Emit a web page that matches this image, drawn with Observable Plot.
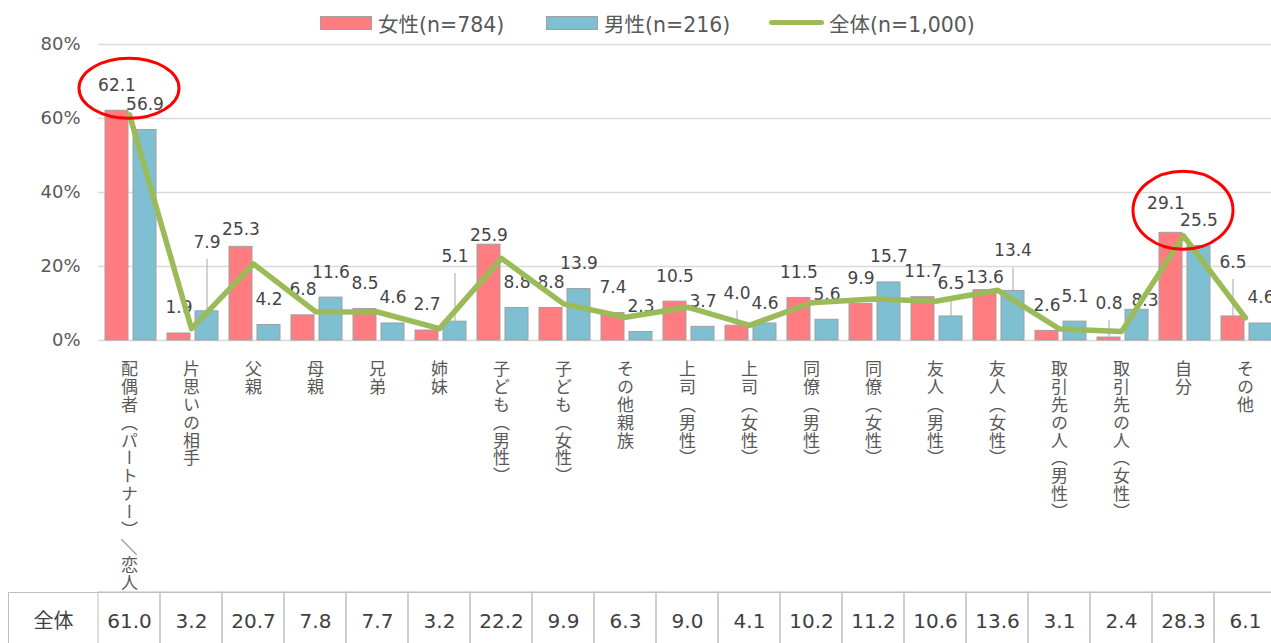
<!DOCTYPE html>
<html>
<head>
<meta charset="utf-8">
<script src="https://cdn.jsdelivr.net/npm/d3@7"></script>
<script src="https://cdn.jsdelivr.net/npm/@observablehq/plot@0.6"></script>
<style>
  html, body { margin: 0; padding: 0; background: #fff; overflow: hidden; }
  #wrap { position: relative; width: 1271px; height: 643px; overflow: hidden;
          font-family: "DejaVu Sans", "Noto Sans CJK JP", sans-serif; }
  #legend { position: absolute; left: 0; top: 0; width: 1271px; height: 45px; color: #595959; font-size: 20.5px; z-index: 2; }
  .item { position: absolute; top: 0; height: 45px; display: flex; align-items: center; white-space: nowrap; }
  .sw { display: inline-block; width: 50px; height: 12px; border: 1px solid #A0A0A0; margin-right: 6px; }
  .ln { display: inline-block; width: 55px; height: 5px; border-radius: 3px; margin-right: 5px; }
  #chart { position: absolute; left: 0; top: 0; }
  #table { position: absolute; left: 0; top: 590px; }
</style>
</head>
<body>
<div id="wrap">
  <div id="legend"></div>
  <div id="chart"></div>
  <div id="table"></div>
</div>
<script>
// ---------- data ----------
const categories = [
  "配偶者（パートナー）／恋人", "片思いの相手", "父親", "母親", "兄弟", "姉妹",
  "子ども（男性）", "子ども（女性）", "その他親族", "上司（男性）", "上司（女性）",
  "同僚（男性）", "同僚（女性）", "友人（男性）", "友人（女性）",
  "取引先の人（男性）", "取引先の人（女性）", "自分", "その他"
];
const femaleValues = [62.1, 1.9, 25.3, 6.8, 8.5, 2.7, 25.9, 8.8, 7.4, 10.5, 4.0, 11.5, 9.9, 11.7, 13.6, 2.6, 0.8, 29.1, 6.5];
const maleValues   = [56.9, 7.9, 4.2, 11.6, 4.6, 5.1, 8.8, 13.9, 2.3, 3.7, 4.6, 5.6, 15.7, 6.5, 13.4, 5.1, 8.3, 25.5, 4.6];
const totalValues  = [61.0, 3.2, 20.7, 7.8, 7.7, 3.2, 22.2, 9.9, 6.3, 9.0, 4.1, 10.2, 11.2, 10.6, 13.6, 3.1, 2.4, 28.3, 6.1];
const yTicks = [0, 20, 40, 60, 80];
const seriesNames = ["女性(n=784)", "男性(n=216)", "全体(n=1,000)"];
const tableRowLabel = "全体";
const highlightCategories = ["配偶者（パートナー）／恋人", "自分"];

// ---------- styling / label placement (pixels) ----------
const colors = { female: "#FF7C80", male: "#7EBFD1", total: "#9BBB59" };
const femaleLabelTweaks = { 2: {dy: -17}, 6: {dy: -9}, 10: {dy: -32, leader: true}, 14: {dy: -13},
  16: {dy: -34, leader: true}, 17: {dy: -29, dx: -5}, 18: {dy: -54, leader: true} };
const maleLabelTweaks = { 1: {dy: -69, leader: true}, 5: {dy: -65, leader: true}, 10: {dy: -20},
  13: {dy: -33, leader: true}, 14: {dy: -40, leader: true}, 16: {dy: -9, dx: 8} };
const highlightShape = [{rx: 50, ry: 30}, {rx: 50, ry: 39}];

const rows = categories.map((cat, i) => ({cat, female: femaleValues[i], male: maleValues[i], total: totalValues[i]}));

// ---------- legend ----------
const legend = d3.select("#legend");
const legendX = [320, 546, 769];
seriesNames.forEach((name, i) => {
  const it = legend.append("div").attr("class", "item").style("left", legendX[i] + "px");
  if (i < 2) it.append("span").attr("class", "sw").style("background", i === 0 ? colors.female : colors.male);
  else it.append("span").attr("class", "ln").style("background", colors.total);
  it.append("span").text(name);
});

// ---------- main chart ----------
const series = [
  {key: "female", fill: colors.female, insetLeft: 7, insetRight: 32, labelDx: -12.5, tweaks: femaleLabelTweaks},
  {key: "male", fill: colors.male, insetLeft: 35, insetRight: 4, labelDx: 15.5, tweaks: maleLabelTweaks}
];

const barMarks = series.map(s => Plot.barY(rows, {
  x: "cat", y: s.key, fill: s.fill, stroke: "#A0A0A0", strokeWidth: 1,
  insetLeft: s.insetLeft, insetRight: s.insetRight
}));

const labelMarks = [];
for (const s of series) {
  rows.forEach((r, i) => {
    const t = s.tweaks[i] || {};
    const dy = t.dy ?? -25.5;
    const dx = s.labelDx + (t.dx || 0);
    if (t.leader) {
      labelMarks.push(Plot.ruleX([r], {x: "cat", y1: s.key, y2: s.key, dx, insetTop: 0, insetBottom: -dy - 17,
        stroke: "#A6A6A6", strokeWidth: 1}));
    }
    labelMarks.push(Plot.text([r], {x: "cat", y: s.key, text: d => d[s.key].toFixed(1), dx, dy,
      fontSize: 17, fill: "#454545"}));
  });
}

const chart = Plot.plot({
  width: 1271, height: 590,
  marginTop: 44, marginBottom: 250, marginLeft: 98, marginRight: 0,
  style: {fontFamily: "'DejaVu Sans','Noto Sans CJK JP',sans-serif", fontSize: "17px", color: "#595959", background: "transparent"},
  x: {type: "band", domain: categories, range: [98, 1276], padding: 0, axis: null},
  y: {domain: [0, 80]},
  marks: [
    Plot.gridY(yTicks, {stroke: "#D9D9D9", strokeOpacity: 1, strokeWidth: 1.5}),
    Plot.axisY(yTicks, {tickSize: 0, tickPadding: 18, tickFormat: d => d + "%", fontSize: 18, label: null, fill: "#595959"}),
    ...barMarks,
    ...labelMarks,
    Plot.line(rows, {x: "cat", y: "total", stroke: colors.total, strokeWidth: 5.5, strokeLinejoin: "round", strokeLinecap: "round"}),
    Plot.text(categories, {x: d => d, text: d => d, frameAnchor: "bottom", textAnchor: "start", dy: 20,
      fontSize: 17, fill: "#595959"})
  ]
});
document.getElementById("chart").appendChild(chart);

// vertical (tategaki) category labels
const catSet = new Set(categories);
d3.select(chart).selectAll("text")
  .filter(function() { return catSet.has(this.textContent); })
  .attr("writing-mode", "vertical-rl")
  .attr("dy", null)
  .style("font-family", "'Noto Sans CJK JP', sans-serif")
  .style("letter-spacing", "0.8px")
  .each(function() {
    // the full-width slash is set sideways, as in the original
    const s = this.textContent;
    const k = s.indexOf("／");
    if (k < 0) return;
    const el = d3.select(this);
    el.text(null);
    el.append("tspan").text(s.slice(0, k));
    el.append("tspan").style("text-orientation", "sideways").text("／");
    el.append("tspan").text(s.slice(k + 1));
  });

// red highlight ellipses, positioned through the chart's own scales
const xs = chart.scale("x"), ys = chart.scale("y");
highlightCategories.forEach((cat, k) => {
  const r = rows.find(d => d.cat === cat);
  const cx = xs.apply(cat) + xs.bandwidth / 2;
  const cy = ys.apply(Math.max(r.female, r.male)) - 22;
  d3.select(chart).append("ellipse")
    .attr("cx", cx).attr("cy", cy)
    .attr("rx", highlightShape[k].rx).attr("ry", highlightShape[k].ry)
    .attr("fill", "none").attr("stroke", "#FF0000").attr("stroke-width", 3);
});

// ---------- table ----------
const table = Plot.plot({
  width: 1271, height: 60,
  marginTop: 2, marginBottom: 0, marginLeft: 8, marginRight: -10,
  style: {fontFamily: "'DejaVu Sans','Noto Sans CJK JP',sans-serif", fontSize: "20px", color: "#404040", background: "transparent"},
  x: {type: "band", domain: categories, range: [98, 1276], padding: 0, axis: null},
  marks: [
    Plot.frame({stroke: "#BFBFBF"}),
    Plot.cell(rows, {x: "cat", fill: "none", stroke: "#BFBFBF", inset: 0}),
    Plot.text(rows, {x: "cat", text: d => d.total.toFixed(1), frameAnchor: "middle", fontSize: 20, fill: "#404040"}),
    Plot.text([tableRowLabel], {text: d => d, frameAnchor: "left", dx: 45, textAnchor: "middle", fontSize: 20, fill: "#404040"})
  ]
});
document.getElementById("table").appendChild(table);
</script>
</body>
</html>
